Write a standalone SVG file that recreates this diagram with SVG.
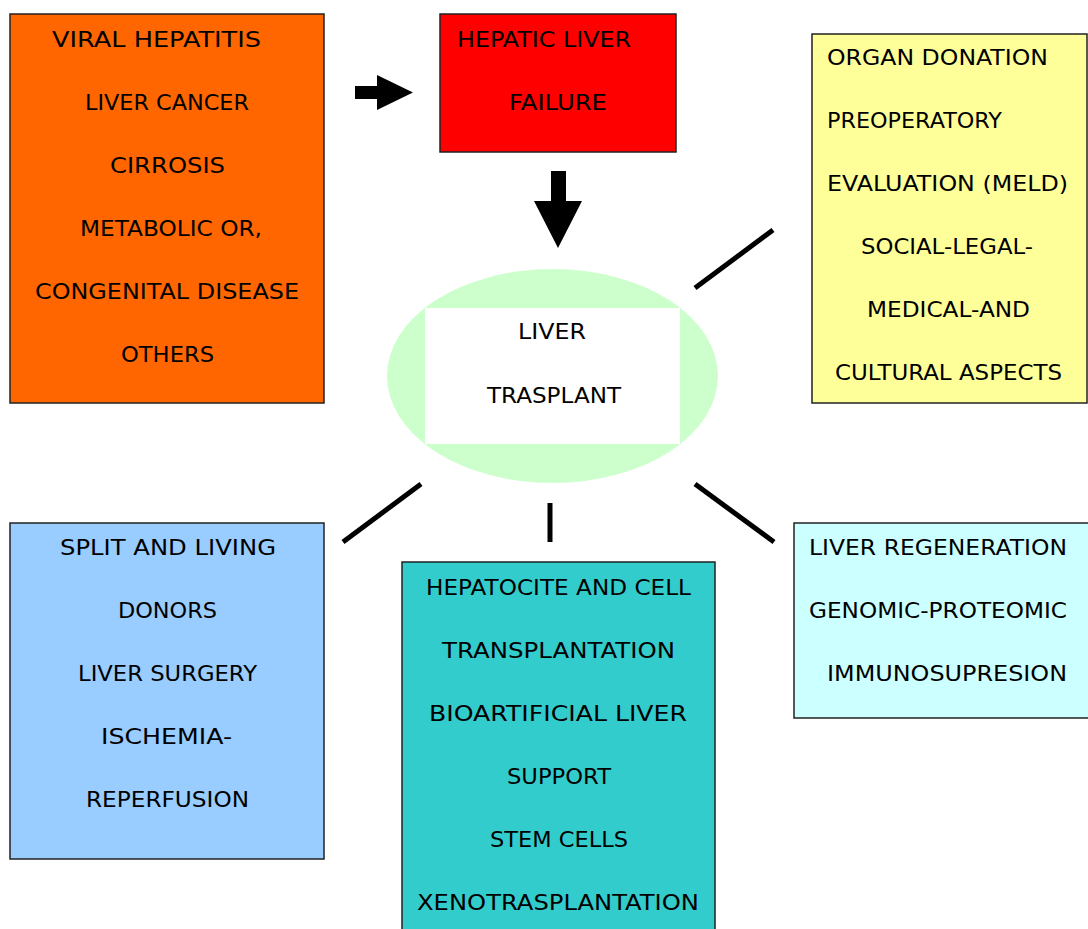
<svg xmlns="http://www.w3.org/2000/svg" width="1088" height="929" viewBox="0 0 1088 929">
<style>
.box{stroke:#222;stroke-width:1.5}
.t{font-family:"Comic Sans MS","DejaVu Sans",sans-serif;font-size:21px;fill:#000}
.ln{stroke:#000;stroke-width:5;fill:none}
</style>
<rect width="1088" height="929" fill="#fff"/>
<g id="causes">
<rect class="box" x="10" y="14" width="314" height="389" fill="#FF6600"/>
<text class="t" x="52" y="47" textLength="209" lengthAdjust="spacingAndGlyphs">VIRAL HEPATITIS</text>
<text class="t" x="85" y="110" textLength="164" lengthAdjust="spacingAndGlyphs">LIVER CANCER</text>
<text class="t" x="110" y="173" textLength="115" lengthAdjust="spacingAndGlyphs">CIRROSIS</text>
<text class="t" x="80" y="236" textLength="182" lengthAdjust="spacingAndGlyphs">METABOLIC OR,</text>
<text class="t" x="35" y="299" textLength="264" lengthAdjust="spacingAndGlyphs">CONGENITAL DISEASE</text>
<text class="t" x="121" y="362" textLength="93" lengthAdjust="spacingAndGlyphs">OTHERS</text>
</g>
<g id="failure">
<rect class="box" x="440" y="14" width="236" height="138" fill="#FF0000"/>
<text class="t" x="457" y="47" textLength="174" lengthAdjust="spacingAndGlyphs">HEPATIC LIVER</text>
<text class="t" x="509" y="110" textLength="98" lengthAdjust="spacingAndGlyphs">FAILURE</text>
</g>
<g id="transplant">
<ellipse cx="552.5" cy="376" rx="165.5" ry="107" fill="#CCFFCC"/>
<rect x="425" y="308" width="255" height="136" fill="#fff"/>
<text class="t" x="518" y="339" textLength="68" lengthAdjust="spacingAndGlyphs">LIVER</text>
<text class="t" x="487" y="403" textLength="134" lengthAdjust="spacingAndGlyphs">TRASPLANT</text>
</g>
<g id="donation">
<rect class="box" x="812" y="34" width="275" height="369" fill="#FFFF99"/>
<text class="t" x="827" y="65" textLength="221" lengthAdjust="spacingAndGlyphs">ORGAN DONATION</text>
<text class="t" x="827" y="128" textLength="175" lengthAdjust="spacingAndGlyphs">PREOPERATORY</text>
<text class="t" x="827" y="191" textLength="241" lengthAdjust="spacingAndGlyphs">EVALUATION (MELD)</text>
<text class="t" x="861" y="254" textLength="172" lengthAdjust="spacingAndGlyphs">SOCIAL-LEGAL-</text>
<text class="t" x="867" y="317" textLength="163" lengthAdjust="spacingAndGlyphs">MEDICAL-AND</text>
<text class="t" x="835" y="380" textLength="227" lengthAdjust="spacingAndGlyphs">CULTURAL ASPECTS</text>
</g>
<g id="surgery">
<rect class="box" x="10" y="523" width="314" height="336" fill="#99CCFF"/>
<text class="t" x="60" y="555" textLength="216" lengthAdjust="spacingAndGlyphs">SPLIT AND LIVING</text>
<text class="t" x="118" y="618" textLength="99" lengthAdjust="spacingAndGlyphs">DONORS</text>
<text class="t" x="78" y="681" textLength="179" lengthAdjust="spacingAndGlyphs">LIVER SURGERY</text>
<text class="t" x="101" y="744" textLength="131" lengthAdjust="spacingAndGlyphs">ISCHEMIA-</text>
<text class="t" x="86" y="807" textLength="163" lengthAdjust="spacingAndGlyphs">REPERFUSION</text>
</g>
<g id="cells">
<rect class="box" x="402" y="562" width="313" height="380" fill="#33CCCC"/>
<text class="t" x="426" y="595" textLength="265" lengthAdjust="spacingAndGlyphs">HEPATOCITE AND CELL</text>
<text class="t" x="442" y="658" textLength="233" lengthAdjust="spacingAndGlyphs">TRANSPLANTATION</text>
<text class="t" x="429" y="721" textLength="258" lengthAdjust="spacingAndGlyphs">BIOARTIFICIAL LIVER</text>
<text class="t" x="507" y="784" textLength="104" lengthAdjust="spacingAndGlyphs">SUPPORT</text>
<text class="t" x="490" y="847" textLength="138" lengthAdjust="spacingAndGlyphs">STEM CELLS</text>
<text class="t" x="417" y="910" textLength="282" lengthAdjust="spacingAndGlyphs">XENOTRASPLANTATION</text>
</g>
<g id="research">
<rect class="box" x="794" y="523" width="300" height="195" fill="#CCFFFF"/>
<text class="t" x="809" y="555" textLength="258" lengthAdjust="spacingAndGlyphs">LIVER REGENERATION</text>
<text class="t" x="809" y="618" textLength="258" lengthAdjust="spacingAndGlyphs">GENOMIC-PROTEOMIC</text>
<text class="t" x="827" y="681" textLength="240" lengthAdjust="spacingAndGlyphs">IMMUNOSUPRESION</text>
</g>
<g id="connectors">
<polygon points="355,86 377,86 377,75 413,92.5 377,110 377,99 355,99" fill="#000"/>
<polygon points="551,171 566,171 566,201 582,201 558,248 534,201 551,201" fill="#000"/>
<line class="ln" x1="695" y1="288" x2="773" y2="230"/>
<line class="ln" x1="421" y1="484" x2="343" y2="542"/>
<line class="ln" x1="550" y1="503" x2="550" y2="542"/>
<line class="ln" x1="695" y1="484" x2="774" y2="542"/>
</g>
</svg>
